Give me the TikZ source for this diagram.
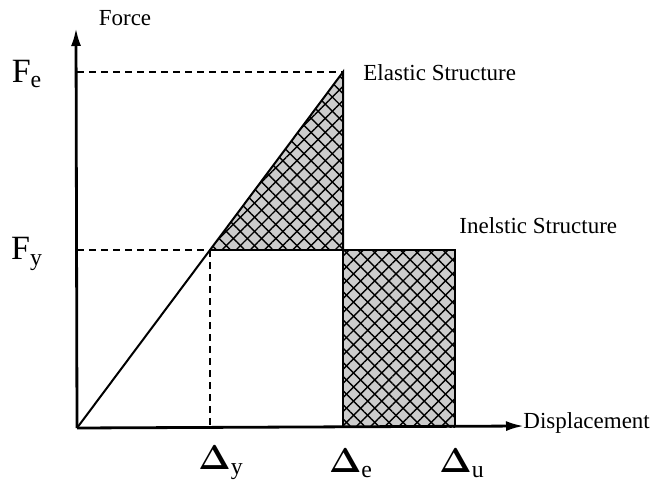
\documentclass[tikz,border=0pt]{standalone}
\usepackage{amsmath}
\usepackage{fontspec}
\setmainfont{Liberation Serif}
\usetikzlibrary{arrows.meta,patterns.meta}

\begin{document}
\begin{tikzpicture}[
x=0.5pt,y=-0.5pt,
axis/.style={-{Latex[length=9pt,width=5pt]},line width=1.4pt},
guide/.style={dash pattern=on 3.5pt off 2.5pt,line width=0.6pt},
curve/.style={line width=1pt},
hatch/.style={fill=gray!40,postaction={pattern={Lines[angle=45,distance=5pt,line width=0.7pt]}},postaction={pattern={Lines[angle=-45,distance=5pt,line width=0.7pt]}}},
lbl/.style={font=\fontsize{11.5}{13}\selectfont,inner sep=1pt},
sym/.style={font=\fontsize{17}{19}\selectfont,inner sep=1pt}
]
\useasboundingbox (0,0) rectangle (652,486);

% key points
\coordinate (O) at (77,428);
\coordinate (ytip) at (76,28);
\coordinate (xtip) at (524,426);
\coordinate (Y) at (210,250);
\coordinate (P) at (343,72);
\coordinate (Pb) at (343,250);
\coordinate (U) at (455,250);
\coordinate (Eb) at (343,427);
\coordinate (Ub) at (455,427);
\coordinate (Yb) at (210,427);
\coordinate (Fe) at (77,72);
\coordinate (Fy) at (77,250);

% shaded areas
\path[hatch] (Y) -- (P) -- (Pb) -- cycle;
\path[hatch] (Pb) rectangle (Ub);

% guides
\draw[guide] (Fe) -- (P);
\draw[guide] (Fy) -- (Y);
\draw[guide] (Y) -- (Yb);

% response
\draw[curve] (O) -- (P) -- (Pb);
\draw[curve] (Y) -- (U) -- (Ub);
\draw[line width=0.8pt] (Pb) -- (Eb);

% axes
\draw[axis] (O) -- (ytip);
\draw[axis] (O) -- (xtip);

% labels
\node[lbl] (force) at (125,18) {Force};
\node[lbl,anchor=west] (disp) at (521,423) {Displacement};
\node[lbl,anchor=west] (elastic) at (361,73) {Elastic Structure};
\node[lbl,anchor=west] (inelastic) at (457,226) {Inelstic Structure};
\node[sym] (fe) at (27,74) {F\textsubscript{e}};
\node[sym] (fy) at (27,254) {F\textsubscript{y}};
\node[sym] (dy) at (221,463) {$\boldsymbol{\Delta}_{\mathrm{y}}$};
\node[sym] (de) at (351,463) {$\boldsymbol{\Delta}_{\mathrm{e}}$};
\node[sym] (du) at (462,463) {$\boldsymbol{\Delta}_{\mathrm{u}}$};
\end{tikzpicture}
\end{document}
